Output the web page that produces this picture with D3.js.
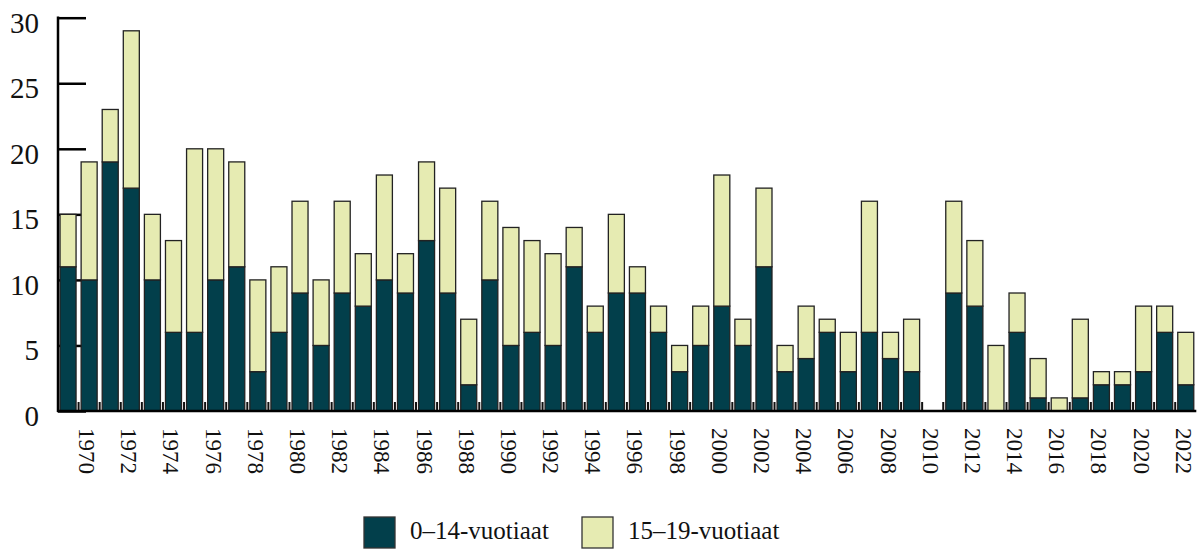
<!DOCTYPE html>
<html>
<head>
<meta charset="utf-8">
<script src="https://cdn.jsdelivr.net/npm/d3@7"></script>
<style>
  body { margin: 0; background: #fff; }
  svg { display: block; }
  text { font-family: "Liberation Serif", "DejaVu Serif", serif; fill: #111; }
</style>
</head>
<body>
<div id="chart"></div>
<script>
// vuodet 1969-2022
const years = d3.range(1969, 2023);
const young = [11, 10, 19, 17, 10, 6, 6, 10, 11, 3, 6, 9, 5, 9, 8, 10, 9, 13, 9, 2,
               10, 5, 6, 5, 11, 6, 9, 9, 6, 3, 5, 8, 5, 11, 3, 4, 6, 3, 6, 4,
               3, 0, 9, 8, 0, 6, 1, 0, 1, 2, 2, 3, 6, 2];
const older = [4, 9, 4, 12, 5, 7, 14, 10, 8, 7, 5, 7, 5, 7, 4, 8, 3, 6, 8, 5,
               6, 9, 7, 7, 3, 2, 6, 2, 2, 2, 3, 10, 2, 6, 2, 4, 1, 3, 10, 2,
               4, 0, 7, 5, 5, 3, 3, 1, 6, 1, 1, 5, 2, 4];
const seriesNames = ["0–14-vuotiaat", "15–19-vuotiaat"];
const yTicks = [0, 5, 10, 15, 20, 25, 30];

const colors = ["#023f4b", "#e6ebb2"];
const width = 1200, height = 549;

const svg = d3.select("#chart").append("svg")
  .attr("width", width)
  .attr("height", height);

const x = d3.scaleBand()
  .domain(years)
  .range([57.5, 1196.3])
  .paddingInner(0.24)
  .paddingOuter(0.12);

const y = d3.scaleLinear()
  .domain([0, 30])
  .range([411, 17.7]);

// y-akseli, tikit sisäänpäin (piirretään palkkien alle)
const yAxis = svg.append("g")
  .attr("transform", "translate(58,0)")
  .call(d3.axisLeft(y).tickValues(yTicks).tickSize(-28).tickPadding(19).tickSizeOuter(0));
yAxis.select(".domain").remove();
yAxis.selectAll("line").attr("stroke", "#000").attr("stroke-width", 2.5);
yAxis.selectAll("text")
  .attr("font-size", 29)
  .attr("font-family", "Liberation Serif, serif")
  .attr("dy", "0.5em")
  .attr("fill", "#111");

// luokkarajojen pienet tikit
const bounds = years.slice(1).map(yr => x(yr) - x.step() * x.paddingInner() / 2);
svg.append("g").selectAll("line")
  .data(bounds)
  .enter()
  .append("line")
  .attr("x1", d => d).attr("x2", d => d)
  .attr("y1", 402).attr("y2", 411)
  .attr("stroke", "#111")
  .attr("stroke-width", 2);

const stack = d3.stack().keys([0, 1]).value((d, k) => d[k]);
const rows = years.map((yr, i) => { const r = [young[i], older[i]]; r.year = yr; return r; });
const layers = stack(rows);

svg.append("g").selectAll("g")
  .data(layers)
  .enter()
  .append("g")
  .attr("fill", (d, i) => colors[i])
  .selectAll("rect")
  .data(d => d.filter(s => s[1] - s[0] > 0))
  .enter()
  .append("rect")
  .attr("x", d => x(d.data.year))
  .attr("y", d => y(d[1]))
  .attr("width", x.bandwidth())
  .attr("height", d => y(d[0]) - y(d[1]))
  .attr("stroke", "#222")
  .attr("stroke-width", 1.3);

// akselien viivat
svg.append("line")
  .attr("x1", 58).attr("x2", 58)
  .attr("y1", 16.5).attr("y2", 412)
  .attr("stroke", "#000").attr("stroke-width", 2.5);
svg.append("line")
  .attr("x1", 57).attr("x2", 1196.3)
  .attr("y1", 411).attr("y2", 411)
  .attr("stroke", "#000").attr("stroke-width", 2.5);

// vuosiluvut joka toinen vuosi
svg.append("g").selectAll("text")
  .data(years.filter(yr => yr % 2 === 0))
  .enter()
  .append("text")
  .attr("transform", d => "translate(" + (x(d) + x.bandwidth() / 2 - 10) + ",428) rotate(90)")
  .attr("font-size", 23)
  .attr("text-anchor", "start")
  .text(d => d);

// selite
const legendX = [364, 582];
const legend = svg.append("g").selectAll("g")
  .data(seriesNames)
  .enter()
  .append("g")
  .attr("transform", (d, i) => "translate(" + legendX[i] + ",517)");
legend.append("rect")
  .attr("width", 31).attr("height", 31)
  .attr("fill", (d, i) => colors[i])
  .attr("stroke", "#333").attr("stroke-width", 1.3);
legend.append("text")
  .attr("x", 46).attr("y", 21.5)
  .attr("font-size", 25)
  .text(d => d);
</script>
</body>
</html>
